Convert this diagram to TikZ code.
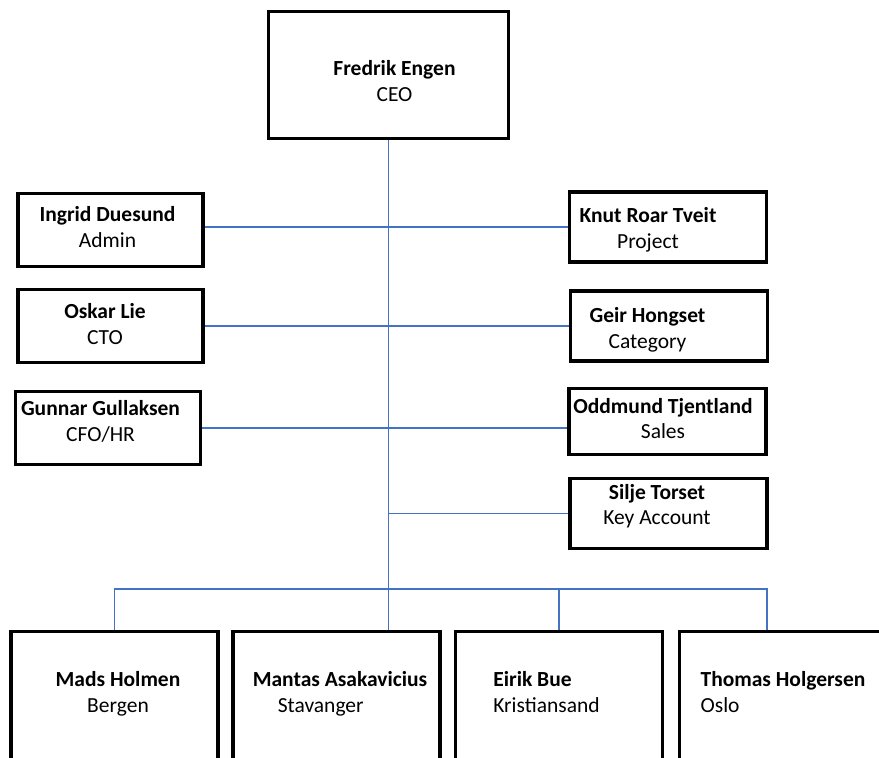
\documentclass[tikz,border=0pt]{standalone}
\usepackage{fontspec}
\setmainfont{Carlito}
\usetikzlibrary{positioning, calc}

\definecolor{linkblue}{HTML}{4472C4}

% name over role; #1 pushes right, #2 pushes down inside the box
\newcommand{\who}[4]{\hspace*{#1}\raisebox{\dimexpr-#2-5.4pt\relax}[30pt][30pt]{\begin{tabular}{@{}c@{}}\textbf{#3}\\#4\end{tabular}}\hspace*{-#1}}
\newcommand{\wholeft}[4]{\hspace*{#1}\raisebox{\dimexpr-#2-5.4pt\relax}[30pt][30pt]{\begin{tabular}{@{}l@{}}\textbf{#3}\\#4\end{tabular}}\hspace*{-#1}}

\begin{document}
\begin{tikzpicture}[x=1pt, y=-1pt,
    box/.style={draw, line width=3.5pt, inner sep=0pt, font=\fontsize{21.5}{25.5}\selectfont},
    leftbox/.style={box, minimum width=185pt, minimum height=73pt},
    rightbox/.style={box, minimum width=197pt, minimum height=70pt},
    office/.style={box, minimum width=207pt, minimum height=137pt},
    link/.style={draw=linkblue, line width=1.5pt}]
  \useasboundingbox (0,0) rectangle (879,758);
  \clip (0,0) rectangle (879,758);

  % Leitung
  \node[box, minimum width=240pt, minimum height=127pt] (ceo) at (388.5,75) {\who{6pt}{8pt}{Fredrik Engen}{CEO}};

  % linke Seite
  \node[leftbox] (ingrid) at (110.5,230) {\who{-3pt}{-1pt}{Ingrid Duesund}{Admin}};
  \node[leftbox] (oskar) at (110.5,326) {\who{-5.5pt}{0pt}{Oskar Lie}{CTO}};
  \node[leftbox] (gunnar) at (108,428) {\who{-7.5pt}{-5pt}{Gunnar Gullaksen}{CFO/HR}};

  % rechte Seite
  \node[rightbox] (knut) at (668,227) {\who{-20pt}{3pt}{Knut Roar Tveit}{Project}};
  \node[rightbox] (geir) at (669,326) {\who{-21.5pt}{4pt}{Geir Hongset}{Category}};
  \node[rightbox, minimum height=66pt] (oddmund) at (667.5,421.5) {\who{-4.5pt}{-1pt}{Oddmund Tjentland}{Sales}};
  \node[rightbox] (silje) at (668.5,513.5) {\who{-11.5pt}{-7pt}{Silje Torset}{Key Account}};

  % Standorte unten
  \node[office] (mads) at (114.5,700) {\who{3.5pt}{-6pt}{Mads Holmen}{Bergen}};
  \node[office] (mantas) at (336.5,700) {\wholeft{3.5pt}{-6pt}{Mantas Asakavicius}{\hspace*{25pt}Stavanger}};
  \node[office] (eirik) at (559,700) {\wholeft{-12.5pt}{-6pt}{Eirik Bue}{Kristiansand}};
  \node[office] (thomas) at (783,700) {\wholeft{0pt}{-6pt}{Thomas Holgersen}{Oslo}};

  % Verbindungen
  \draw[link] (ceo.south) -- (ceo.south |- mantas.north);
  \draw[link] (ingrid.east |- knut.west) -- (knut.west);
  \draw[link] (oskar.east |- geir.west) -- (geir.west);
  \draw[link] (gunnar.east) -- (gunnar.east -| oddmund.west);
  \draw[link] (silje.west) -- (silje.west -| ceo.south);

  \coordinate (bus) at (767,589);
  \draw[link] (mads.north) |- (bus) -- (bus |- thomas.north);
  \draw[link] (eirik.north) -- (eirik.north |- bus);
\end{tikzpicture}
\end{document}
